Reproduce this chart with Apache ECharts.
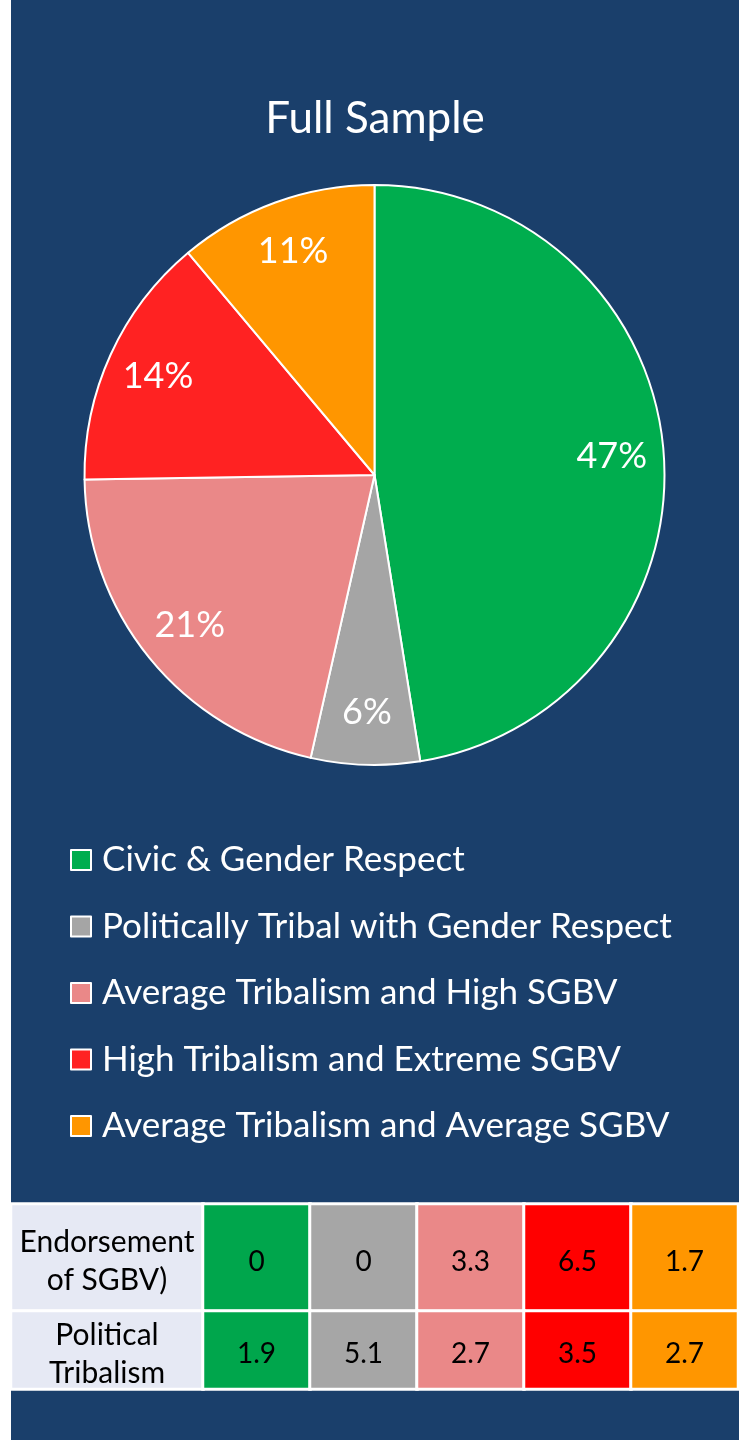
<!DOCTYPE html>
<html>
<head>
<meta charset="utf-8">
<script src="https://cdn.jsdelivr.net/npm/echarts@6/dist/echarts.min.js"></script>
<style>
  html, body { margin: 0; padding: 0; background: #ffffff; }
  #chart { position: absolute; left: 11px; top: 0; width: 728px; height: 1440px; }
</style>
</head>
<body>
<div id="chart"></div>
<script>
// Segment names, shares (%) and colours
const segments = [
  'Civic & Gender Respect',
  'Politically Tribal with Gender Respect',
  'Average Tribalism and High SGBV',
  'High Tribalism and Extreme SGBV',
  'Average Tribalism and Average SGBV'
];
const shares = [47, 6, 21, 14, 11];
const pieColors = ['#00ad4e', '#a5a5a5', '#ea8888', '#ff2222', '#ff9600'];
const tableColors = ['#00a64c', '#a6a6a6', '#ea8888', '#ff0000', '#ff9600'];

// Table rows: mean scores per segment
const rowNames = ['Endorsement\nof SGBV)', 'Political\nTribalism'];
const sgbvScores = [0, 0, 3.3, 6.5, 1.7];
const tribalScores = [1.9, 5.1, 2.7, 3.5, 2.7];

const FONT = 'Lato, "Noto Sans", sans-serif';
const BG = '#1a3f6b';

const chart = echarts.init(document.getElementById('chart'));

const pieData = segments.map((n, i) => ({
  name: n, value: shares[i], itemStyle: { color: pieColors[i] }
}));

// Table layout: one grid for the header cell and one for the data cells, per row
const rowGeom = [{ top: 1204, height: 107 }, { top: 1311, height: 78 }];
const grids = [], xAxes = [], yAxes = [], tableSeries = [];
const rowValues = [sgbvScores, tribalScores];
rowGeom.forEach((g, r) => {
  // header cell
  grids.push({ left: 0, width: 192, top: g.top, height: g.height });
  // data cells
  grids.push({ left: 192, width: 535, top: g.top, height: g.height });
  const hIdx = r * 2, dIdx = r * 2 + 1;
  xAxes.push({ type: 'category', gridIndex: hIdx, data: ['h'], show: false });
  xAxes.push({ type: 'category', gridIndex: dIdx, data: segments, show: false });
  yAxes.push({ type: 'category', gridIndex: hIdx, data: ['r'], show: false });
  yAxes.push({ type: 'category', gridIndex: dIdx, data: ['r'], show: false });
  tableSeries.push({
    type: 'heatmap', xAxisIndex: hIdx, yAxisIndex: hIdx, silent: true,
    data: [{ name: rowNames[r], value: [0, 0, 0], itemStyle: { color: '#e6e9f4' } }],
    itemStyle: { borderColor: '#ffffff', borderWidth: 3 },
    label: { show: true, formatter: '{b}', color: '#000', fontFamily: FONT, fontSize: 30, lineHeight: 38, offset: [0, 4] },
    emphasis: { disabled: true }
  });
  tableSeries.push({
    type: 'heatmap', xAxisIndex: dIdx, yAxisIndex: dIdx, silent: true,
    data: rowValues[r].map((v, i) => ({ value: [i, 0, v], itemStyle: { color: tableColors[i] } })),
    itemStyle: { borderColor: '#ffffff', borderWidth: 3 },
    label: { show: true, formatter: p => String(p.value[2]), color: '#000', fontFamily: FONT, fontSize: 28, offset: [0, 4] },
    emphasis: { disabled: true }
  });
});

chart.setOption({
  backgroundColor: BG,
  animation: false,
  title: {
    text: 'Full Sample', left: 'center', top: 92,
    textStyle: { color: '#ffffff', fontFamily: FONT, fontWeight: 'normal', fontSize: 44 }
  },
  legend: {
    orient: 'vertical', left: 59, top: 842, padding: 0,
    itemWidth: 20, itemHeight: 20, itemGap: 30.5,
    icon: 'rect',
    data: segments.map((n, i) => ({ name: n, itemStyle: { color: pieColors[i], borderColor: '#ffffff', borderWidth: 2 } })),
    textStyle: { color: '#ffffff', fontFamily: FONT, fontSize: 35, lineHeight: 36, padding: [0, 0, 0, 6] },
    selectedMode: false
  },
  grid: grids,
  xAxis: xAxes,
  yAxis: yAxes,
  series: [
    {
      type: 'pie', center: [363.5, 475], radius: [0, 290],
      startAngle: 90, clockwise: true, silent: true,
      data: pieData,
      itemStyle: { borderColor: '#ffffff', borderWidth: 2 },
      label: { show: false }, labelLine: { show: false },
      emphasis: { disabled: true }
    },
    {
      // transparent ring used to place the percentage labels
      type: 'pie', center: [363.5, 475], radius: [180, 290],
      startAngle: 90, clockwise: true, silent: true,
      data: pieData.map(d => ({ name: d.name, value: d.value })),
      itemStyle: { color: 'rgba(0,0,0,0)', borderWidth: 0 },
      label: {
        show: true, position: 'inside', formatter: '{c}%',
        color: '#ffffff', fontFamily: FONT, fontSize: 36
      },
      labelLine: { show: false },
      emphasis: { disabled: true }
    },
    ...tableSeries
  ]
});
</script>
</body>
</html>
